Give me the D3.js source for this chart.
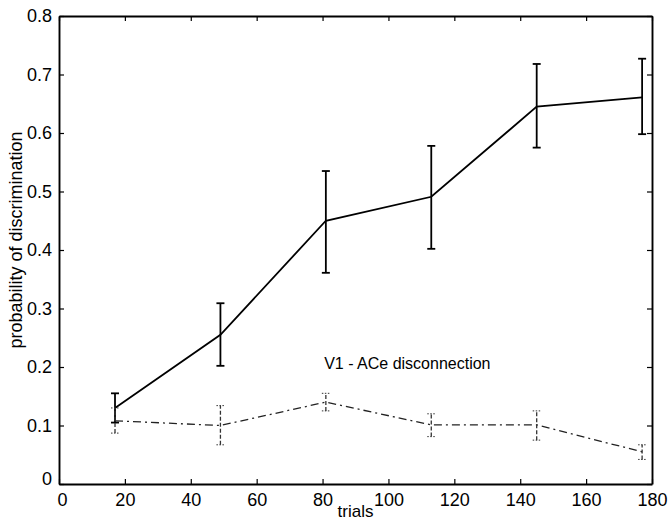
<!DOCTYPE html>
<html><head><meta charset="utf-8">
<script src="https://cdn.jsdelivr.net/npm/d3@7"></script>
<style>
html,body{margin:0;padding:0;background:#fff;}
svg{display:block;font-family:"Liberation Sans",Arial,Helvetica,sans-serif;}
</style></head>
<body>
<svg id="chart" width="668" height="522"></svg>
<script>
// Data
const trials = [17, 49, 81, 113, 145, 177];
const intactMean  = [0.130, 0.255, 0.450, 0.491, 0.645, 0.661];
const intactUpper = [0.155, 0.309, 0.535, 0.578, 0.718, 0.727];
const intactLower = [0.105, 0.202, 0.361, 0.402, 0.575, 0.598];
const discMean  = [0.108, 0.100, 0.140, 0.101, 0.101, 0.055];
const discUpper = [0.130, 0.134, 0.155, 0.120, 0.125, 0.067];
const discLower = [0.087, 0.067, 0.125, 0.081, 0.075, 0.042];
const xTicks = [0, 20, 40, 60, 80, 100, 120, 140, 160, 180];
const yTicks = [0, 0.1, 0.2, 0.3, 0.4, 0.5, 0.6, 0.7, 0.8];
const annotation = "V1 - ACe disconnection";
const xLabel = "trials";
const yLabel = "probability of discrimination";

const svg = d3.select("#chart");
const W = 668, H = 522;
const m = {left: 59, right: W - 652, top: 16, bottom: H - 484};
const x = d3.scaleLinear().domain([0, 180]).range([m.left, W - m.right]);
const y = d3.scaleLinear().domain([0, 0.8]).range([H - m.bottom, m.top]);

const fmtY = d => d === 0 ? "0" : d3.format(".1f")(d);

// Axes (inward ticks, mirrored on top and right)
const gx = svg.append("g").attr("transform", `translate(0,${y(0)})`)
  .call(d3.axisBottom(x).tickValues(xTicks).tickSizeInner(-5).tickSizeOuter(0).tickPadding(9).tickFormat(d3.format("d")));
const gxt = svg.append("g").attr("transform", `translate(0,${y(0.8)})`)
  .call(d3.axisTop(x).tickValues(xTicks).tickSizeInner(-5).tickSizeOuter(0).tickFormat(""));
const gy = svg.append("g").attr("transform", `translate(${x(0)},0)`)
  .call(d3.axisLeft(y).tickValues(yTicks).tickSizeInner(-5).tickSizeOuter(0).tickPadding(7).tickFormat(fmtY));
const gyr = svg.append("g").attr("transform", `translate(${x(180)},0)`)
  .call(d3.axisRight(y).tickValues(yTicks).tickSizeInner(-5).tickSizeOuter(0).tickFormat(""));

[gx, gxt, gy, gyr].forEach(g => {
  g.select(".domain").attr("stroke", "#000").attr("stroke-width", 1.9);
  g.selectAll(".tick line").attr("stroke", "#000").attr("stroke-width", 1.2);
  g.selectAll(".tick text").attr("fill", "#000").attr("font-size", 18)
    .attr("font-family", "'Liberation Sans', Arial, sans-serif");
});
gx.selectAll(".tick text").attr("dy", "0.71em");
gx.selectAll(".tick text").filter(d => d === 0).attr("dx", 3);
gy.selectAll(".tick text").filter(d => d === 0).attr("dy", "0.05em");

// Axis labels
svg.append("text").attr("x", (x(0) + x(180)) / 2).attr("y", 517)
  .attr("text-anchor", "middle").attr("font-size", 17).attr("fill", "#000").text(xLabel);
svg.append("text").attr("transform", `translate(22,240) rotate(-90)`)
  .attr("text-anchor", "middle").attr("font-size", 18).attr("fill", "#000").text(yLabel);

// Series 1: solid with error bars
const line = d3.line().x(d => x(d[0])).y(d => y(d[1]));
const s1 = trials.map((t, i) => [t, intactMean[i]]);
svg.append("path").datum(s1).attr("d", line).attr("fill", "none")
  .attr("stroke", "#000").attr("stroke-width", 1.8);
const cap = 4;
const eb1 = svg.append("g").attr("stroke", "#000").attr("stroke-width", 1.8);
trials.forEach((t, i) => {
  eb1.append("line").attr("x1", x(t)).attr("x2", x(t)).attr("y1", y(intactLower[i])).attr("y2", y(intactUpper[i]));
  eb1.append("line").attr("x1", x(t) - cap).attr("x2", x(t) + cap).attr("y1", y(intactLower[i])).attr("y2", y(intactLower[i]));
  eb1.append("line").attr("x1", x(t) - cap).attr("x2", x(t) + cap).attr("y1", y(intactUpper[i])).attr("y2", y(intactUpper[i]));
});

// Series 2: dash-dot with dotted error bars
const s2 = trials.map((t, i) => [t, discMean[i]]);
svg.append("path").datum(s2).attr("d", line).attr("fill", "none")
  .attr("stroke", "#222").attr("stroke-width", 1.3).attr("stroke-dasharray", "8,4,2,4");
const eb2 = svg.append("g").attr("stroke", "#333").attr("stroke-width", 1.3);
trials.forEach((t, i) => {
  eb2.append("line").attr("x1", x(t)).attr("x2", x(t)).attr("y1", y(discLower[i])).attr("y2", y(discUpper[i]))
    .attr("stroke-dasharray", "4,2");
  eb2.append("line").attr("x1", x(t) - cap).attr("x2", x(t) + cap).attr("y1", y(discLower[i])).attr("y2", y(discLower[i]))
    .attr("stroke-dasharray", "1.5,1.5").attr("stroke-width", 1);
  eb2.append("line").attr("x1", x(t) - cap).attr("x2", x(t) + cap).attr("y1", y(discUpper[i])).attr("y2", y(discUpper[i]))
    .attr("stroke-dasharray", "1.5,1.5").attr("stroke-width", 1);
});

// Annotation
svg.append("text").attr("x", x(80.5)).attr("y", y(0.2) + 2)
  .attr("font-size", 16).attr("fill", "#000").text(annotation);
</script>
</body></html>
